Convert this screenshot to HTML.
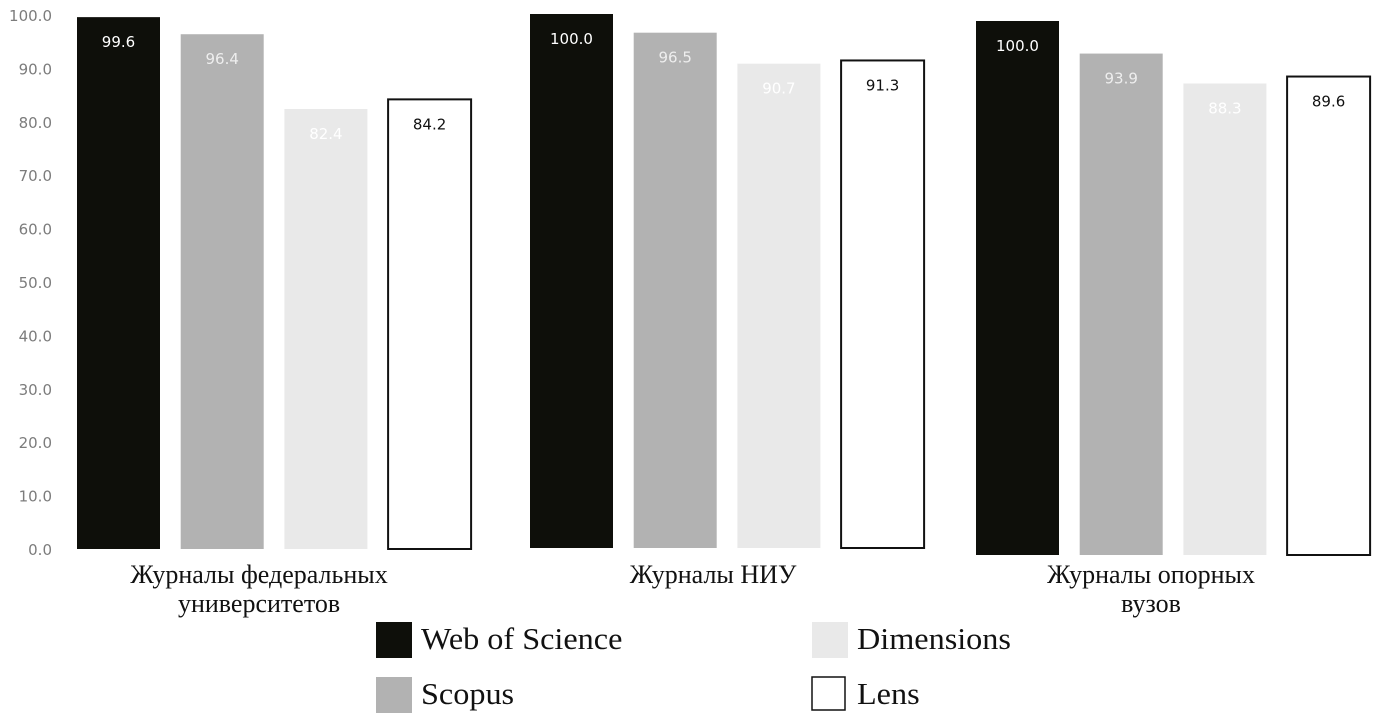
<!DOCTYPE html>
<html><head><meta charset="utf-8"><style>
html,body{margin:0;padding:0;background:#fff;width:1378px;height:721px;overflow:hidden}
svg{display:block}
</style></head><body>
<svg id="chart" width="1378" height="721" xmlns="http://www.w3.org/2000/svg"></svg>
<script>
const categories = [["Журналы федеральных","университетов"],["Журналы НИУ"],["Журналы опорных","вузов"]];
const seriesNames = ["Web of Science","Scopus","Dimensions","Lens"];
const wosValues = [99.6, 100.0, 100.0];
const scopusValues = [96.4, 96.5, 93.9];
const dimensionsValues = [82.4, 90.7, 88.3];
const lensValues = [84.2, 91.3, 89.6];
const yTicks = [0,10,20,30,40,50,60,70,80,90,100];

const series = [wosValues, scopusValues, dimensionsValues, lensValues];
const fills = ["#0e0f0a","#b2b2b2","#e9e9e9","#ffffff"];
const labelColors = ["#ffffff","#eeeeee","#ffffff","#111111"];
const groupX = [77, 530, 976];
const groupBase = [549, 548, 555];
const labelShift = [-15, -14, -22];
const barW = 83, barStep = 103.7;
const pxPerUnit = 5.34;
const svg = document.getElementById('chart');
const NS = "http://www.w3.org/2000/svg";
function yScale(v, g){ return groupBase[g] - v*pxPerUnit; }
function mk(tag, attrs){ const e=document.createElementNS(NS,tag); for(const k in attrs) e.setAttribute(k,attrs[k]); svg.appendChild(e); return e; }

yTicks.forEach(t=>{
  const tx = mk('text',{x:52,y:(549 - t*pxPerUnit)+6,'text-anchor':'end','font-family':'"DejaVu Sans", "Liberation Sans", sans-serif','font-size':15,fill:'#7c7c7c'});
  tx.textContent = t.toFixed(1);
  
  
});

categories.forEach((cat,g)=>{
  series.forEach((vals,s)=>{
    const x = groupX[g] + s*barStep;
    const y = yScale(vals[g], g);
    const r = mk('rect',{x:x,y:y,width:barW,height:groupBase[g]-y,fill:fills[s],stroke:s===3?'#111':'none','stroke-width':2});
    
    
    const t = mk('text',{x:x+barW/2,y:y+30,'text-anchor':'middle','font-family':'"DejaVu Sans", "Liberation Sans", sans-serif','font-size':15,fill:labelColors[s]});
    t.textContent = vals[g].toFixed(1);
    
    
  });
  const cx = groupX[g] + (3*barStep+barW)/2 + labelShift[g];
  cat.forEach((line,i)=>{
    const t = mk('text',{x:cx,y:583+i*29,'text-anchor':'middle','font-family':'"Liberation Serif", serif','font-size':26,fill:'#111',transform:`translate(${cx},0) scale(1.0,1) translate(${-cx},0)`});
    t.textContent = line;
    
    
  });
});

const legendPos = [[376,622],[376,677],[812,622],[812,677]];
seriesNames.forEach((n,s)=>{
  const [lx,ly] = legendPos[s];
  const r = mk('rect',{x:lx,y:ly,width:s===3?33:36,height:s===3?33:36,fill:fills[s],stroke:s===3?'#111':'none','stroke-width':1.5});
  
  
  const t = mk('text',{x:lx+45,y:ly+27,'font-family':'"Liberation Serif", serif','font-size':31,fill:'#111',transform:`translate(${lx+45},0) scale(1.04,1) translate(${-(lx+45)},0)`});
  t.textContent = n;
  
  
});
</script>
</body></html>
